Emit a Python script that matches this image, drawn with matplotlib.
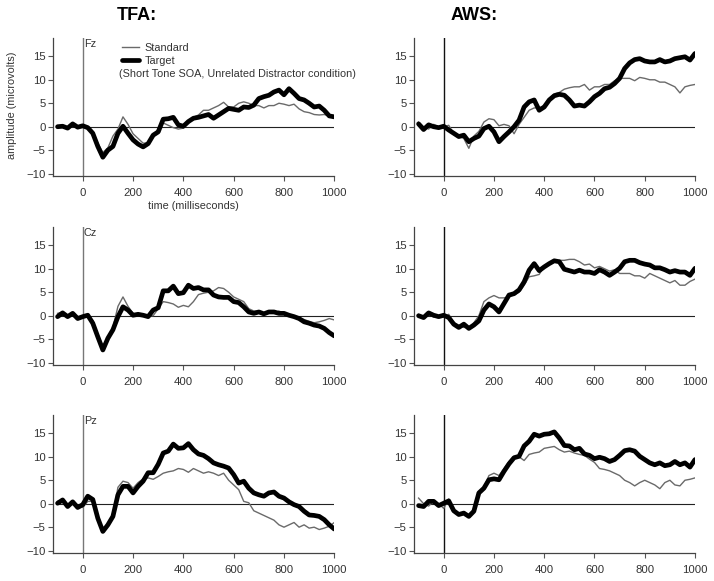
import matplotlib
matplotlib.use('Agg')
import matplotlib.pyplot as plt
from matplotlib.lines import Line2D

plt.rcParams['font.family'] = ['Liberation Sans', 'DejaVu Sans']

# ---------------- data ----------------
times = list(range(-100, 1001, 20))  # ms

groups = ['TFA:', 'AWS:']
channels = ['Fz', 'Cz', 'Pz']
series_names = ['Standard', 'Target']
condition_note = '(Short Tone SOA, Unrelated Distractor condition)'
x_label = 'time (milliseconds)'
y_label = 'amplitude (microvolts)'
x_ticks = [0, 200, 400, 600, 800, 1000]
y_ticks = [-10, -5, 0, 5, 10, 15]

tfa_fz_standard = [0, 0.3, -0.3, 0.6, 0, 0.2, 0, -1.0, -3.5, -5.5,
                   -4.5, -2.0, -0.5, 2.1, 0.5, -1.5, -2.5, -3.5, -3.5, -2.0,
                   -0.5, 0.8, 0.3, -0.2, -0.5, -0.3, 0.8, 2.0, 2.5, 3.5,
                   3.5, 4.0, 4.5, 5.2, 4.2, 4.2, 5.0, 5.3, 5.0, 4.5,
                   4.5, 4.0, 4.5, 4.5, 5.0, 4.8, 4.5, 4.8, 3.8, 3.2,
                   3.0, 2.6, 2.5, 2.6, 2.3, 2.2]
tfa_fz_target = [0, 0.1, -0.3, 0.6, -0.1, 0.2, -0.2, -1.4, -4.2, -6.5,
                 -5.0, -4.2, -1.4, 0.1, -1.4, -2.8, -3.7, -4.3, -3.6, -1.8,
                 -1.1, 1.6, 1.7, 2.0, 0.4, 0.1, 1.1, 1.8, 2.0, 2.3,
                 2.6, 1.8, 2.5, 3.2, 3.9, 3.7, 3.5, 4.2, 4.1, 4.6,
                 6.0, 6.4, 6.7, 7.4, 7.8, 6.8, 8.1, 7.1, 6.0, 5.7,
                 5.0, 4.2, 4.4, 3.5, 2.3, 2.1]

aws_fz_standard = [1.0, 0, -0.5, 0.5, 0, 0, 0.3, -1.5, -2.0, -2.5,
                   -4.6, -2.0, -1.0, 1.0, 1.7, 1.5, 0.2, 0.5, 0.2, -1.5,
                   0.5, 2.0, 3.5, 4.0, 4.0, 4.5, 6.0, 7.0, 7.3, 8.0,
                   8.3, 8.5, 8.5, 9.0, 7.8, 8.5, 8.5, 9.0, 9.0, 9.8,
                   10.3, 10.3, 10.3, 9.8, 10.5, 10.3, 10.0, 10.0, 9.5, 9.5,
                   9.0, 8.5, 7.2, 8.5, 8.8, 9.0]
aws_fz_target = [0.6, -0.6, 0.4, 0, -0.2, 0.1, -0.7, -1.4, -2.1, -1.8,
                 -3.2, -2.5, -2.0, -0.4, 0.1, -1.1, -3.2, -2.1, -1.1, 0,
                 1.4, 4.2, 5.3, 5.7, 3.5, 4.2, 5.7, 6.6, 6.9, 6.7,
                 5.7, 4.4, 4.6, 4.4, 5.3, 6.4, 7.1, 8.1, 8.4, 9.2,
                 10.3, 12.4, 13.6, 14.3, 14.5, 14.0, 13.8, 13.8, 14.3, 13.8,
                 14.0, 14.5, 14.7, 14.9, 14.2, 15.6]

tfa_cz_standard = [0.5, 0.8, 0, 0.5, -0.5, 0, 0, -1.0, -4.0, -6.5,
                   -4.5, -2.5, 2.0, 4.0, 2.0, 0.5, 0.3, 0, 0, 0,
                   1.5, 3.0, 2.8, 2.5, 1.8, 2.2, 1.9, 3.0, 4.5, 4.8,
                   5.0, 5.3, 6.0, 5.8, 5.0, 4.0, 3.5, 3.0, 1.5, 1.0,
                   1.0, 0.5, 0.5, 0.5, 1.0, 0.5, 0.3, 0, -0.5, -0.8,
                   -1.2, -1.5, -1.3, -1.0, -0.6, -0.9]
tfa_cz_target = [-0.2, 0.6, -0.2, 0.5, -0.6, -0.2, 0.1, -1.6, -4.5, -7.3,
                 -4.8, -3.0, -0.2, 1.9, 1.2, 0.1, 0.3, 0.1, -0.2, 1.2,
                 1.7, 5.3, 5.3, 6.3, 4.7, 4.9, 6.5, 5.8, 6.0, 5.5,
                 5.5, 4.4, 4.0, 3.9, 3.9, 3.0, 2.8, 1.9, 0.8, 0.5,
                 0.8, 0.4, 0.8, 0.8, 0.5, 0.5, 0.1, -0.2, -0.6, -1.3,
                 -1.6, -2.0, -2.2, -2.7, -3.6, -4.3]

aws_cz_standard = [0.3, -0.5, 0.5, -0.3, 0, -0.3, 0.3, -1.5, -2.0, -2.5,
                   -2.5, -1.5, 0, 3.0, 3.8, 4.3, 3.8, 3.8, 4.0, 4.5,
                   5.0, 6.5, 8.3, 8.5, 8.8, 10.5, 11.0, 11.5, 11.8, 11.8,
                   12.0, 12.0, 11.5, 10.8, 11.0, 10.2, 10.5, 10.0, 9.5, 9.8,
                   9.0, 9.0, 9.0, 8.5, 8.5, 8.0, 9.0, 8.5, 8.0, 7.5,
                   7.0, 7.5, 6.5, 6.5, 7.3, 7.8]
aws_cz_target = [0, -0.4, 0.6, 0.1, -0.2, 0.1, -0.4, -1.8, -2.5, -1.8,
                 -2.7, -2.0, -1.1, 1.2, 2.5, 1.9, 0.8, 2.6, 4.4, 4.7,
                 5.5, 7.2, 9.7, 11.1, 9.6, 10.4, 11.1, 11.7, 11.5, 9.9,
                 9.6, 9.3, 9.7, 9.3, 9.3, 9.0, 9.8, 9.3, 8.6, 9.3,
                 10.1, 11.5, 11.8, 11.8, 11.3, 11.0, 10.8, 10.2, 10.2, 9.8,
                 9.3, 9.6, 9.3, 9.3, 8.6, 10.1]

tfa_pz_standard = [0.5, 0.5, -0.5, 0.3, -0.5, -0.8, 0.5, 0.5, -3.0, -5.5,
                   -4.3, -2.5, 3.5, 4.8, 4.5, 3.3, 4.5, 5.3, 5.5, 5.2,
                   5.8, 6.5, 6.8, 7.0, 7.5, 7.3, 6.7, 7.5, 7.0, 6.5,
                   6.8, 6.5, 6.0, 6.5, 5.0, 4.0, 3.0, 0.5, 0.2, -1.5,
                   -2.0, -2.5, -3.0, -3.5, -4.5, -5.0, -4.5, -4.0, -5.0, -4.5,
                   -5.2, -5.0, -5.5, -5.2, -4.8, -4.0]
tfa_pz_target = [0.1, 0.8, -0.6, 0.4, -0.8, -0.2, 1.6, 0.9, -3.1, -5.9,
                 -4.5, -2.7, 1.9, 3.7, 3.7, 2.3, 3.7, 4.8, 6.6, 6.6,
                 8.4, 10.8, 11.2, 12.7, 11.8, 11.9, 12.8, 11.5, 10.6, 10.3,
                 9.6, 8.7, 8.3, 8.0, 7.6, 6.2, 4.4, 4.8, 3.3, 2.3,
                 1.9, 1.6, 2.3, 2.5, 1.6, 1.2, 0.4, -0.2, -0.6, -1.6,
                 -2.4, -2.5, -2.7, -3.4, -4.5, -5.4]

aws_pz_standard = [1.2, 0, -0.5, 0.5, 0, -1.0, 1.0, -1.5, -2.0, -2.0,
                   -2.5, -1.5, 2.5, 3.5, 6.0, 6.5, 6.0, 7.5, 9.0, 10.0,
                   10.0, 9.2, 10.5, 10.8, 11.0, 11.8, 12.0, 12.2, 11.5, 11.0,
                   11.2, 10.8, 10.5, 10.3, 9.5, 8.8, 7.5, 7.3, 7.0, 6.5,
                   6.0, 5.0, 4.5, 3.8, 4.5, 5.0, 4.5, 4.0, 3.2, 4.5,
                   5.0, 4.0, 3.8, 5.0, 5.2, 5.5]
aws_pz_target = [-0.4, -0.6, 0.5, 0.5, -0.4, 0.1, 0.6, -1.5, -2.3, -2.0,
                 -2.7, -1.6, 2.3, 3.3, 5.1, 5.3, 5.1, 6.9, 8.5, 9.8,
                 10.1, 12.3, 13.3, 14.8, 14.4, 14.8, 14.9, 15.3, 14.0, 12.4,
                 12.3, 11.5, 11.8, 10.6, 10.3, 9.6, 9.9, 9.6, 9.0, 9.4,
                 10.3, 11.3, 11.5, 11.2, 10.1, 9.4, 8.7, 8.3, 8.7, 8.1,
                 8.3, 9.0, 8.3, 8.7, 7.8, 9.4]

panels = {
    ('TFA:', 'Fz'): (tfa_fz_standard, tfa_fz_target),
    ('AWS:', 'Fz'): (aws_fz_standard, aws_fz_target),
    ('TFA:', 'Cz'): (tfa_cz_standard, tfa_cz_target),
    ('AWS:', 'Cz'): (aws_cz_standard, aws_cz_target),
    ('TFA:', 'Pz'): (tfa_pz_standard, tfa_pz_target),
    ('AWS:', 'Pz'): (aws_pz_standard, aws_pz_target),
}

# ---------------- layout ----------------
W, H = 714, 581
fig = plt.figure(figsize=(W / 100, H / 100), dpi=100)

col_left_px = [53.3, 414.3]
col_width_px = [281.0, 280.7]
row_top_px = [38, 227, 415]
row_h_px = 138

std_color = '#6a6a6a'
tgt_color = '#000000'
txt_color = '#333333'
small = 7.8

for r, ch in enumerate(channels):
    for c, grp in enumerate(groups):
        left = col_left_px[c] / W
        bottom = 1 - (row_top_px[r] + row_h_px) / H
        ax = fig.add_axes([left, bottom, col_width_px[c] / W, row_h_px / H])
        std, tgt = panels[(grp, ch)]

        ax.hlines(0, times[0], times[-1], color='#222222', lw=0.8, zorder=1)
        ax.axvline(0, color='#777777' if c == 0 else '#111111', lw=1.0, zorder=1)
        ax.plot(times, std, color=std_color, lw=1.0, zorder=2,
                solid_joinstyle='round', label=series_names[0])
        ax.plot(times, tgt, color=tgt_color, lw=3.4, zorder=3,
                solid_joinstyle='round', solid_capstyle='round', label=series_names[1])

        ax.set_xlim(-117, 1000)
        ax.set_ylim(-10.5, 18.9)
        ax.set_xticks(x_ticks)
        ax.set_yticks(y_ticks)
        for s in ['top', 'right']:
            ax.spines[s].set_visible(False)
        for s in ['left', 'bottom']:
            ax.spines[s].set_color('#444444')
            ax.spines[s].set_linewidth(0.9)
        ax.tick_params(axis='both', direction='out', length=3.5, width=0.8,
                       color='#555555', labelcolor=txt_color, labelsize=8.2)
        ax.tick_params(axis='x', pad=5)
        ax.tick_params(axis='y', pad=2)

        if c == 0:
            ax.text(4, 18.6, ch, ha='left', va='top', fontsize=small, color=txt_color)

        if r == 0 and c == 0:
            ax.set_xlabel(x_label, fontsize=small, color=txt_color, labelpad=2)
            handles = [Line2D([], [], color=std_color, lw=1.0),
                       Line2D([], [], color=tgt_color, lw=3.4, solid_capstyle='round')]
            ax.legend(handles, series_names, loc='upper left',
                      bbox_to_anchor=(0.245, 0.965), frameon=False,
                      fontsize=small, handlelength=1.6, handletextpad=0.45,
                      borderpad=0, borderaxespad=0, labelspacing=0.3,
                      labelcolor=txt_color)
            ax.text(0.235, 0.742, condition_note, transform=ax.transAxes,
                    ha='left', va='center', fontsize=small, color=txt_color)

# group titles
fig.text(137 / W, 1 - 15 / H, groups[0], ha='center', va='center',
         fontsize=13, fontweight='bold', color='black')
fig.text(474 / W, 1 - 15 / H, groups[1], ha='center', va='center',
         fontsize=13, fontweight='bold', color='black')

# y label
fig.text(12 / W, 1 - 105 / H, y_label, rotation=90, ha='center', va='center',
         fontsize=small, color=txt_color)

fig.savefig('out.png', dpi=100)
